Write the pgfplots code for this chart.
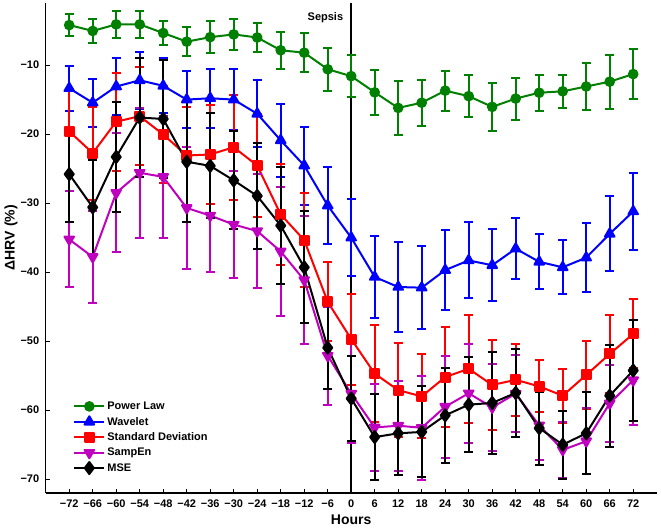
\documentclass[border=0pt]{standalone}
\usepackage{fontspec}
\setmainfont{Liberation Sans}
\usepackage{pgfplots}
\pgfplotsset{compat=1.18}
\definecolor{mgreen}{RGB}{0,128,0}
\definecolor{mblue}{RGB}{0,0,255}
\definecolor{mred}{RGB}{255,0,0}
\definecolor{mpurple}{RGB}{191,0,191}
\pgfplotsset{
  myerr/.style={
    error bars/y dir=both,
    error bars/y explicit,
    error bars/error bar style={line width=2pt, solid},
    error bars/error mark options={rotate=90, mark size=4.5pt, line width=2pt, solid}
  }
}
\begin{document}
\begin{tikzpicture}
\begin{axis}[
  scale only axis, width=611pt, height=490pt,
  xmin=-78, xmax=78, ymin=-72, ymax=-1,
  axis x line*=bottom, axis y line*=left,
  axis line style={line width=1.2pt, -},
  tick align=inside, major tick length=4pt,
  tick style={line width=1pt, black},
  xtick={-72,-66,-60,-54,-48,-42,-36,-30,-24,-18,-12,-6,0,6,12,18,24,30,36,42,48,54,60,66,72},
  xticklabels={−72,−66,−60,−54,−48,−42,−36,−30,−24,−18,−12,−6,0,6,12,18,24,30,36,42,48,54,60,66,72},
  ytick={-70,-60,-50,-40,-30,-20,-10},
  yticklabels={−70,−60,−50,−40,−30,−20,−10},
  ticklabel style={font=\bfseries\fontsize{11}{13}\selectfont},
  xticklabel style={yshift=-3pt},
  yticklabel style={xshift=-3pt},
  xlabel={Hours}, ylabel={ΔHRV (\%)},
  label style={font=\bfseries\fontsize{14}{16}\selectfont},
  xlabel style={at={(rel axis cs:0.5,0)}, anchor=base, yshift=-31pt},
  ylabel style={at={(rel axis cs:0,0.521)}, anchor=center, yshift=34.7pt},
  legend style={at={(rel axis cs:0.04,0.033)}, anchor=south west, draw=none, fill=none,
    font=\bfseries\fontsize{11}{13}\selectfont, row sep=2.1pt},
  legend cell align=left,
  legend image code/.code={\draw[mark repeat=2,mark phase=2,#1] plot coordinates {(0pt,0pt) (15pt,0pt) (30pt,0pt)};},
  every axis plot/.append style={line width=2pt, line join=round},
]
\coordinate (A) at (rel axis cs:0,0);
\coordinate (B) at (rel axis cs:1,1);
\addplot[black, line width=2.5pt, forget plot] coordinates {(0,-72) (0,-1)};

\addplot[mgreen, mark=*, mark size=4.3pt, mark options={solid}, myerr] coordinates {
(-72,-4.2) +- (0,1.6)
(-66,-5.05) +- (0,1.7)
(-60,-4.1) +- (0,1.9)
(-54,-4.1) +- (0,1.9)
(-48,-5.35) +- (0,1.75)
(-42,-6.6) +- (0,2.1)
(-36,-5.95) +- (0,2.3)
(-30,-5.55) +- (0,2.2)
(-24,-6.0) +- (0,2.1)
(-18,-7.85) +- (0,2.65)
(-12,-8.2) +- (0,2.8)
(-6,-10.6) +- (0,3.1)
(0,-11.6) +- (0,3.0)
(6,-13.95) +- (0,3.25)
(12,-16.2) +- (0,3.9)
(18,-15.45) +- (0,3.35)
(24,-13.7) +- (0,2.9)
(30,-14.5) +- (0,3.0)
(36,-16.05) +- (0,3.45)
(42,-14.85) +- (0,3.05)
(48,-14.0) +- (0,2.6)
(54,-13.8) +- (0,2.4)
(60,-13.1) +- (0,3.4)
(66,-12.4) +- (0,3.9)
(72,-11.3) +- (0,3.6)
};
\addlegendentry{Power Law}

\addplot[mblue, mark=triangle*, mark size=5.5pt, mark options={solid}, myerr] coordinates {
(-72,-13.35) +- (0,3.25)
(-66,-15.45) +- (0,3.45)
(-60,-13.1) +- (0,4.2)
(-54,-12.2) +- (0,4.1)
(-48,-13.0) +- (0,4.0)
(-42,-15.0) +- (0,4.1)
(-36,-14.8) +- (0,4.25)
(-30,-15.0) +- (0,4.4)
(-24,-17.05) +- (0,4.85)
(-18,-20.9) +- (0,5.3)
(-12,-24.55) +- (0,5.65)
(-6,-30.35) +- (0,5.55)
(0,-35.0) +- (0,5.6)
(6,-40.7) +- (0,6.0)
(12,-42.15) +- (0,6.45)
(18,-42.25) +- (0,6.05)
(24,-39.7) +- (0,5.8)
(30,-38.3) +- (0,5.5)
(36,-39.0) +- (0,5.2)
(42,-36.6) +- (0,4.4)
(48,-38.5) +- (0,4.0)
(54,-39.3) +- (0,3.9)
(60,-37.9) +- (0,5.0)
(66,-34.45) +- (0,5.45)
(72,-31.2) +- (0,5.6)
};
\addlegendentry{Wavelet}

\addplot[mred, mark=square*, mark size=4.5pt, mark options={solid}, myerr] coordinates {
(-72,-19.6) +- (0,6.2)
(-66,-22.75) +- (0,6.75)
(-60,-18.2) +- (0,7.1)
(-54,-17.4) +- (0,7.1)
(-48,-20.05) +- (0,7.05)
(-42,-23.1) +- (0,7.1)
(-36,-22.95) +- (0,7.2)
(-30,-21.9) +- (0,7.6)
(-24,-24.55) +- (0,7.45)
(-18,-31.65) +- (0,7.25)
(-12,-35.35) +- (0,6.85)
(-6,-44.3) +- (0,5.7)
(0,-49.7) +- (0,6.6)
(6,-54.7) +- (0,7.0)
(12,-57.1) +- (0,6.8)
(18,-58.0) +- (0,6.1)
(24,-55.2) +- (0,7.2)
(30,-54.0) +- (0,7.8)
(36,-56.35) +- (0,6.55)
(42,-55.6) +- (0,5.2)
(48,-56.55) +- (0,3.75)
(54,-57.9) +- (0,3.9)
(60,-54.9) +- (0,4.9)
(66,-51.85) +- (0,5.6)
(72,-48.95) +- (0,5.0)
};
\addlegendentry{Standard Deviation}

\addplot[mpurple, mark=triangle*, mark size=5.5pt, mark options={solid, rotate=180}, myerr] coordinates {
(-72,-35.25) +- (0,6.95)
(-66,-37.8) +- (0,6.6)
(-60,-28.5) +- (0,8.6)
(-54,-25.6) +- (0,9.4)
(-48,-26.2) +- (0,8.8)
(-42,-30.7) +- (0,8.9)
(-36,-31.8) +- (0,8.2)
(-30,-33.1) +- (0,7.7)
(-24,-34.05) +- (0,8.2)
(-18,-37.0) +- (0,9.3)
(-12,-41.15) +- (0,9.25)
(-6,-52.1) +- (0,7.1)
(0,-57.6) +- (0,7.2)
(6,-62.5) +- (0,6.3)
(12,-62.25) +- (0,6.55)
(18,-62.55) +- (0,7.5)
(24,-59.5) +- (0,7.4)
(30,-57.55) +- (0,7.15)
(36,-59.6) +- (0,6.3)
(42,-57.6) +- (0,5.6)
(48,-62.2) +- (0,5.0)
(54,-65.75) +- (0,4.1)
(60,-64.5) +- (0,4.8)
(66,-59.0) +- (0,5.6)
(72,-55.65) +- (0,6.55)
};
\addlegendentry{SampEn}

\addplot[black, mark=diamond*, mark size=6pt, mark options={solid}, myerr] coordinates {
(-72,-25.8) +- (0,6.9)
(-66,-30.6) +- (0,6.8)
(-60,-23.3) +- (0,8.0)
(-54,-17.6) +- (0,8.6)
(-48,-17.8) +- (0,8.6)
(-42,-24.0) +- (0,8.7)
(-36,-24.6) +- (0,7.6)
(-30,-26.7) +- (0,7.1)
(-24,-28.95) +- (0,7.65)
(-18,-33.25) +- (0,8.45)
(-12,-39.3) +- (0,8.1)
(-6,-50.95) +- (0,6.05)
(0,-58.3) +- (0,6.2)
(6,-63.9) +- (0,6.2)
(12,-63.35) +- (0,6.05)
(18,-63.15) +- (0,6.6)
(24,-60.75) +- (0,6.85)
(30,-59.2) +- (0,6.9)
(36,-58.95) +- (0,7.35)
(42,-57.5) +- (0,6.4)
(48,-62.6) +- (0,5.3)
(54,-65.0) +- (0,4.9)
(60,-63.35) +- (0,5.95)
(66,-57.9) +- (0,7.4)
(72,-54.25) +- (0,7.35)
};
\addlegendentry{MSE}

\node[anchor=base east, inner sep=0pt, font=\bfseries\fontsize{11}{13}\selectfont] at (axis cs:-2,-3.5) {Sepsis};
\end{axis}
\pgfresetboundingbox
\path[use as bounding box] ([xshift=-45.7pt,yshift=-34pt]A) rectangle ([xshift=4.3pt,yshift=3pt]B);
\end{tikzpicture}
\end{document}
